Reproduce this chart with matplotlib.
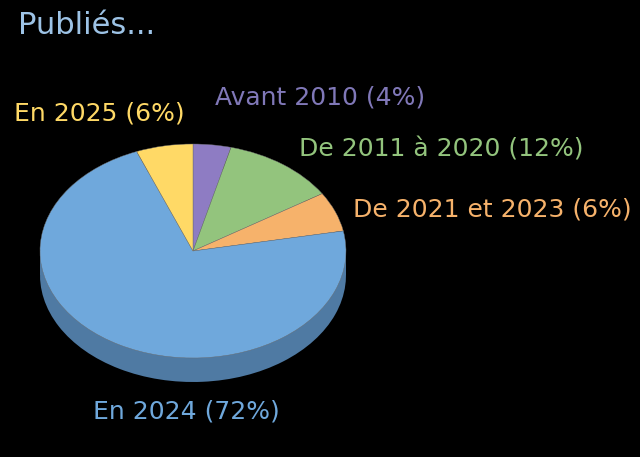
import matplotlib
matplotlib.use("Agg")
import matplotlib.pyplot as plt
from matplotlib.patches import Rectangle

labels = ["Avant 2010 (4%)", "De 2011 à 2020 (12%)", "De 2021 et 2023 (6%)", "En 2024 (72%)", "En 2025 (6%)"]
values = [4, 12, 6, 72, 6]
colors = ["#8E7CC3", "#93C47D", "#F6B26B", "#6FA8DC", "#FFD966"]
label_colors = ["#8078B8", "#93C47D", "#F6B26B", "#6FA8DC", "#FFD966"]
side_color = "#4F7AA3"
title = "Publiés..."

# pie centre and radii in pixels
cx, cy, rx, ry = 193, 251, 153, 107
depth = 24 / ry

label_pos = [(320, 97), (441, 150), (492, 210), (186, 411), (99, 113)]

fig = plt.figure(figsize=(6.4, 4.57), dpi=100, facecolor="black")
ax = fig.add_axes([0, 0, 1, 1])

# side of the disc first, then the top face
ax.pie(values, colors=[side_color] * len(values), startangle=90, counterclock=False,
       center=(0, -depth), wedgeprops={"linewidth": 0})
ax.add_patch(Rectangle((-1, -depth), 2, depth, facecolor=side_color, linewidth=0))
ax.pie(values, colors=colors, startangle=90, counterclock=False,
       wedgeprops={"linewidth": 0.3, "edgecolor": "#6b6b6b"})

ax.set_aspect("auto")
ax.set_xlim(-cx / rx, (640 - cx) / rx)
ax.set_ylim((cy - 457) / ry, cy / ry)
ax.axis("off")

for text, color, (x, y) in zip(labels, label_colors, label_pos):
    fig.text(x / 640, 1 - y / 457, text, color=color, fontsize=18, family="DejaVu Sans",
             ha="center", va="center")

fig.text(18 / 640, 1 - 26 / 457, title, color="#9DC3E6", fontsize=22, family="DejaVu Sans",
         ha="left", va="center")

fig.savefig("out.png", dpi=100, facecolor="black")
